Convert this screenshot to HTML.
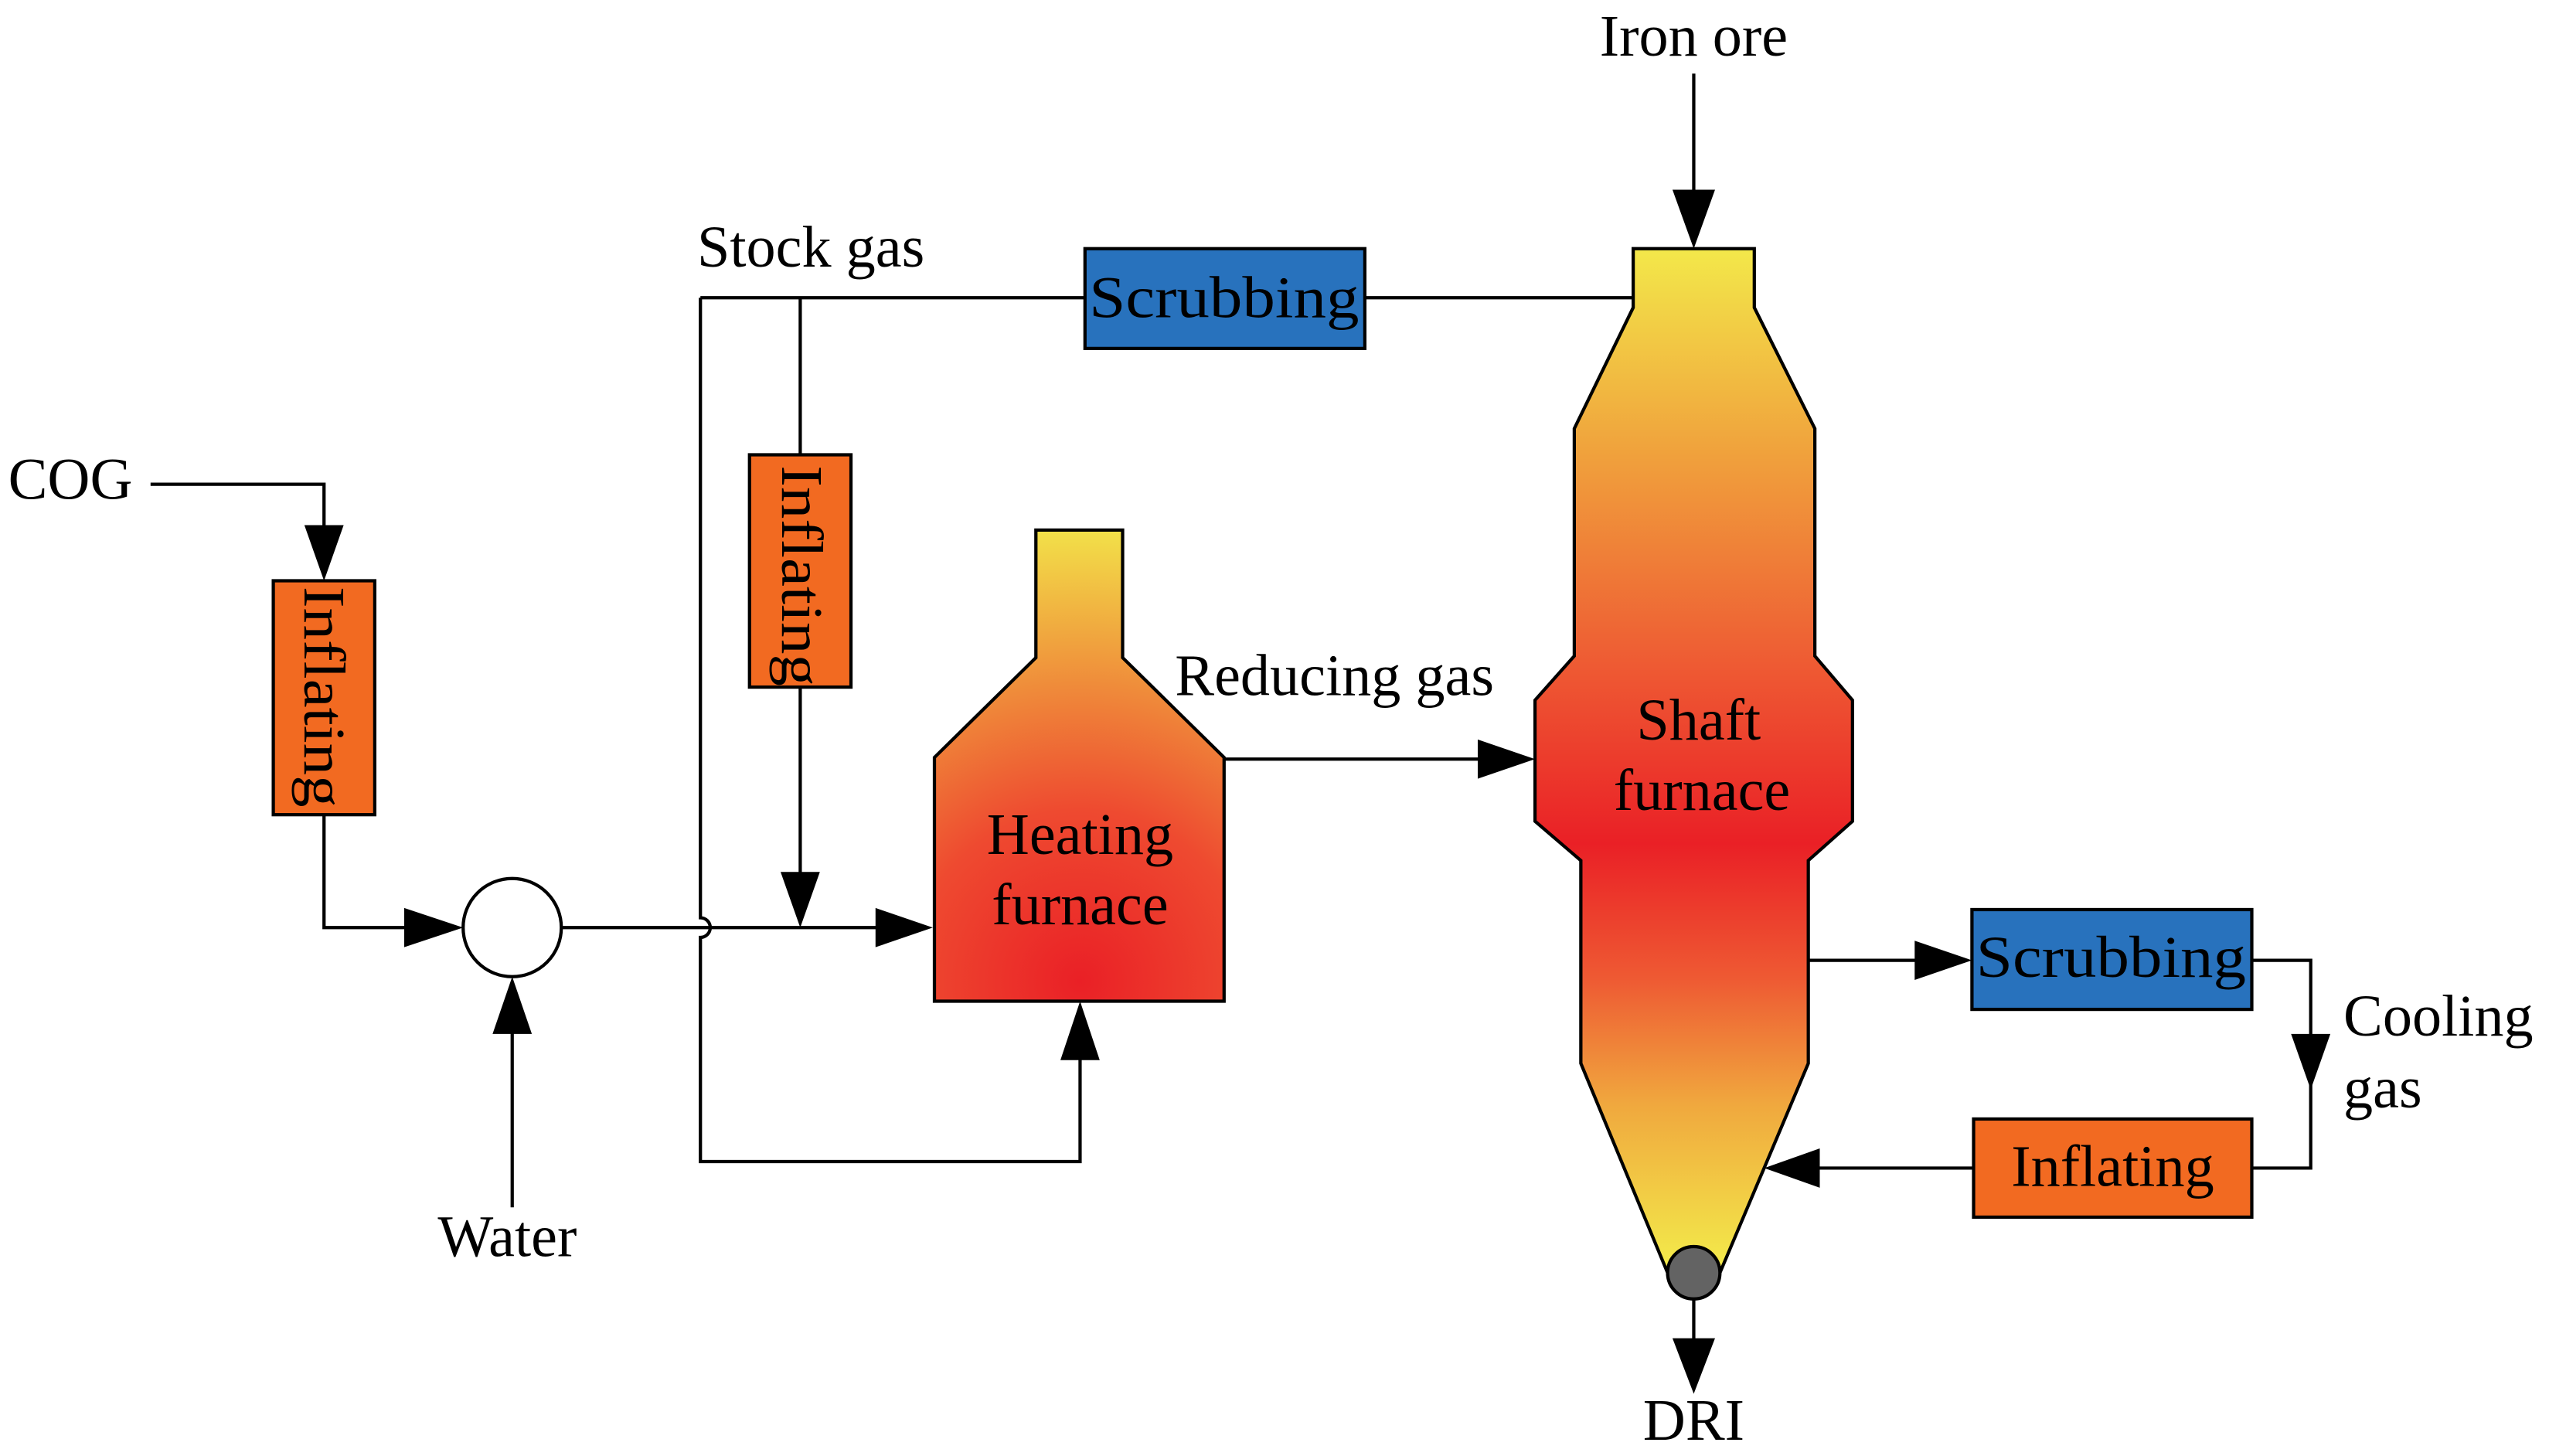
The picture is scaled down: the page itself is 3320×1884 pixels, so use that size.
<!DOCTYPE html>
<html><head><meta charset="utf-8"><style>
html,body{margin:0;padding:0;background:#fff;}
svg{display:block;}
text{font-family:"Liberation Serif",serif;font-size:36px;fill:#000;}
</style></head><body>
<svg width="3320" height="1884" viewBox="0 0 1568 890" preserveAspectRatio="none" xmlns="http://www.w3.org/2000/svg">
<defs>
<radialGradient id="hf" cx="660" cy="600" r="300" gradientUnits="userSpaceOnUse">
<stop offset="0" stop-color="#ea2026"/>
<stop offset="0.35" stop-color="#ee4a30"/>
<stop offset="0.6" stop-color="#ef8a3a"/>
<stop offset="0.95" stop-color="#f3e84a"/>
</radialGradient>
<linearGradient id="sf" x1="0" y1="152" x2="0" y2="790" gradientUnits="userSpaceOnUse">
<stop offset="0" stop-color="#f3e84a"/>
<stop offset="0.2" stop-color="#f0a03c"/>
<stop offset="0.4" stop-color="#ee5a33"/>
<stop offset="0.57" stop-color="#ea2026"/>
<stop offset="0.7" stop-color="#ee5a33"/>
<stop offset="0.82" stop-color="#f0a83e"/>
<stop offset="0.97" stop-color="#f3e84a"/>
</linearGradient>
</defs>
<g stroke="#000" stroke-width="2" fill="none">
<!-- COG -->
<polyline points="92,296 198,296 198,330"/>
<polyline points="198,498 198,567 250,567"/>
<line x1="313" y1="738" x2="313" y2="620"/>
<line x1="343" y1="567" x2="540" y2="567"/>
<!-- left loop with jump -->
<path d="M428,182 L428,561 A6,6 0 0 1 428,573 L428,710 L660,710 L660,640"/>
<line x1="428" y1="182" x2="663" y2="182"/>
<line x1="834" y1="182" x2="998" y2="182"/>
<line x1="489" y1="182" x2="489" y2="278"/>
<line x1="489" y1="420" x2="489" y2="540"/>
<line x1="748" y1="464" x2="910" y2="464"/>
<line x1="1035" y1="45" x2="1035" y2="125"/>
<line x1="1035" y1="794" x2="1035" y2="825"/>
<line x1="1105" y1="587" x2="1180" y2="587"/>
<polyline points="1376,587 1412,587 1412,714 1376,714"/>
<line x1="1206" y1="714" x2="1105" y2="714"/>
</g>
<g fill="#000">
<polygon points="186,321 210,321 198,355"/>
<polygon points="247,555 247,579 283,567"/>
<polygon points="301,632 325,632 313,597"/>
<polygon points="535,555 535,579 570,567"/>
<polygon points="477,533 501,533 489,567"/>
<polygon points="648,648 672,648 660,612"/>
<polygon points="903,452 903,476 938,464"/>
<polygon points="1022,116 1048,116 1035,152"/>
<polygon points="1022,818 1048,818 1035,852"/>
<polygon points="1170,575 1170,599 1205,587"/>
<polygon points="1400,632 1424,632 1412,666"/>
<polygon points="1112,702 1112,726 1078,714"/>
</g>
<circle cx="313" cy="567" r="30" fill="#fff" stroke="#000" stroke-width="2"/>
<!-- boxes -->
<rect x="167" y="355" width="62" height="143" fill="#f26a21" stroke="#000" stroke-width="2"/>
<rect x="458" y="278" width="62" height="142" fill="#f26a21" stroke="#000" stroke-width="2"/>
<rect x="663" y="152" width="171" height="61" fill="#2872bd" stroke="#000" stroke-width="2"/>
<rect x="1205" y="556" width="171" height="61" fill="#2872bd" stroke="#000" stroke-width="2"/>
<rect x="1206" y="684" width="170" height="60" fill="#f26a21" stroke="#000" stroke-width="2"/>
<!-- heating furnace -->
<polygon points="633,324 686,324 686,402 748,463 748,612 571,612 571,463 633,402" fill="url(#hf)" stroke="#000" stroke-width="2"/>
<!-- shaft furnace -->
<polygon points="998,152 1072,152 1072,188 1109,262 1109,401 1132,428 1132,502 1105,526 1105,650 1051,778 1019,778 966,650 966,526 938,502 938,428 962,401 962,262 998,188" fill="url(#sf)" stroke="#000" stroke-width="2"/>
<circle cx="1035" cy="778" r="16" fill="#636363" stroke="#000" stroke-width="2"/>
<!-- text -->
<text x="5" y="305">COG</text>
<text x="426" y="163">Stock gas</text>
<text x="310" y="768" text-anchor="middle">Water</text>
<text x="1035" y="34" text-anchor="middle">Iron ore</text>
<text x="1035" y="880" text-anchor="middle">DRI</text>
<text x="718" y="425">Reducing gas</text>
<text x="1432" y="633">Cooling</text>
<text x="1432" y="677">gas</text>
<text x="748" y="194" text-anchor="middle" textLength="165" lengthAdjust="spacingAndGlyphs">Scrubbing</text>
<text x="1290" y="597" text-anchor="middle" textLength="165" lengthAdjust="spacingAndGlyphs">Scrubbing</text>
<text x="1291" y="725" text-anchor="middle">Inflating</text>
<text x="660" y="522" text-anchor="middle">Heating</text>
<text x="660" y="565" text-anchor="middle">furnace</text>
<text x="1038" y="452" text-anchor="middle">Shaft</text>
<text x="1040" y="495" text-anchor="middle">furnace</text>
<text transform="translate(186,426) rotate(90)" text-anchor="middle" textLength="135" lengthAdjust="spacingAndGlyphs">Inflating</text>
<text transform="translate(478,352) rotate(90)" text-anchor="middle" textLength="135" lengthAdjust="spacingAndGlyphs">Inflating</text>
</svg>
</body></html>
